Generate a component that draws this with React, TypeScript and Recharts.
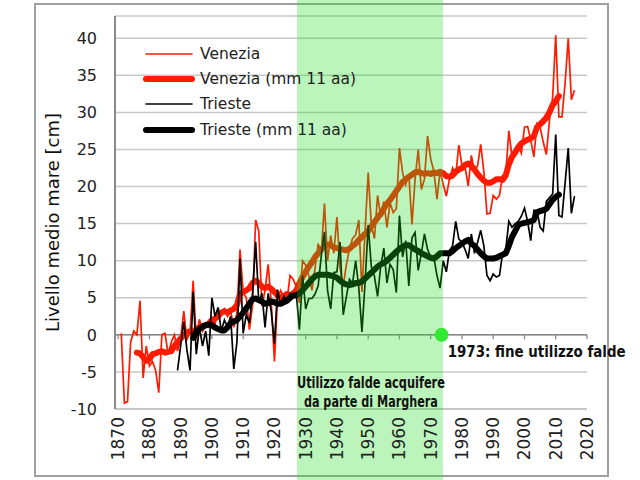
import React from 'react';
import {
  LineChart, Line, XAxis, YAxis, CartesianGrid, ReferenceArea, ReferenceLine,
  ReferenceDot, Legend,
} from 'recharts';

// ---- data (cm) ----
const veneziaStart = 1871;
const venezia = [
  0.2, -9.2, -9.0, -1.0, 0.5, 0.0, 4.6, -5.8, -1.5, -4.2,
  -3.6, -4.8, -7.8, 0.0, 0.2, -2.6, -1.0, 0.0, -2.2, -0.5,
  3.2, -0.6, 0.3, 7.3, -0.6, 2.1, 0.5, 1.2, 1.0, 2.0,
  1.5, 3.3, 2.8, 3.5, 2.5, 3.2, 1.0, 3.0, 11.5, 5.7,
  5.0, 0.7, 4.0, 15.5, 14.0, 3.9, 6.0, 9.5, 4.3, -3.6,
  5.0, 6.0, 5.0, 4.5, 8.0, 7.5, 6.5, 4.3, 10.0, 9.4,
  8.0, 6.0, 9.0, 12.3, 11.0, 17.7, 10.0, 13.4, 11.0, 15.9,
  9.0, 6.5, 9.4, 11.6, 13.0, 13.5, 15.5, 5.8, 14.0, 21.9,
  14.8, 13.0, 18.8, 16.0, 18.0, 14.5, 17.8, 16.5, 17.0, 25.2,
  21.9, 20.3, 21.7, 14.9, 21.0, 25.0, 19.6, 21.0, 26.8, 23.7,
  22.1, 18.3, 22.1, 20.3, 18.7, 21.0, 22.5, 21.5, 25.6, 22.8,
  22.6, 20.1, 24.2, 22.0, 22.8, 25.7, 22.0, 16.3, 16.4, 18.8,
  18.3, 18.8, 21.5, 21.6, 27.5, 24.0, 25.0, 25.5, 24.5, 28.0,
  28.1, 26.3, 24.0, 28.5, 28.0, 26.0, 24.3, 29.0, 32.0, 40.4,
  29.4, 29.4, 34.0, 40.0, 31.7, 33.0,
];

const veneziaMAStart = 1876;
const veneziaMA = [
  -2.4, -2.5, -3.0, -3.5, -3.3, -2.6, -2.5, -2.3, -2.2, -2.4,
  -2.3, -2.2, -1.5, -1.0, -0.5, 0.0, 0.3, 0.5, 0.3, 0.8,
  1.0, 1.2, 1.3, 1.5, 2.0, 2.2, 2.5, 3.0, 3.2, 3.0,
  3.3, 3.5, 4.0, 5.5, 5.8, 6.0, 6.3, 7.0, 7.3, 7.0,
  6.5, 6.3, 6.5, 6.2, 5.8, 5.3, 5.0, 5.2, 5.5, 5.3,
  5.6, 6.0, 7.0, 7.8, 8.5, 9.2, 9.8, 10.5, 11.0, 11.5,
  12.0, 12.2, 12.1, 11.8, 11.7, 11.6, 11.5, 11.4, 11.6, 12.0,
  12.3, 12.8, 13.2, 13.6, 14.0, 14.6, 15.2, 15.8, 16.3, 17.0,
  17.7, 18.2, 18.8, 19.4, 20.0, 20.6, 21.0, 21.3, 21.6, 21.9,
  22.0, 21.8, 21.7, 21.8, 21.7, 21.9, 21.8, 22.0, 21.8, 21.4,
  21.3, 21.5, 22.0, 22.3, 22.5, 22.9, 23.1, 22.8, 22.3, 21.7,
  21.2, 20.8, 20.5, 20.5, 20.7, 21.0, 21.0, 20.9, 21.5, 23.0,
  24.0, 24.6, 25.3, 25.8, 26.1, 26.3, 26.5, 26.8, 28.0, 28.4,
  28.8, 29.3, 30.0, 31.0, 31.5, 32.2,
];

const triesteStart = 1889;
const trieste = [
  -4.8, -1.5, 1.8, -2.0, -4.8, 5.8, -2.6, 1.0, -1.5, 0.5,
  -2.8, 5.0, 2.5, 3.7, 0.5, 2.0, 1.0, 2.5, -4.6, -1.0,
  10.3, 0.2, 2.7, 1.6, 5.6, 12.5, 4.3, 5.6, 1.0, 5.6,
  3.1, -1.2, 6.1, 3.9, 5.2, 4.5, 5.6, 5.4, 5.6, 0.7,
  8.0, 3.5, 4.9, 4.9, 5.5, 6.6, 10.7, 13.9, 6.0, 3.5,
  8.4, 8.5, 12.5, 2.7, 5.1, 7.5, 7.0, 10.0, 6.3, 0.4,
  7.0, 14.8, 9.2, 7.9, 5.2, 9.2, 11.7, 7.0, 9.5, 8.8,
  5.7, 16.1, 10.5, 12.7, 6.6, 13.1, 13.8, 8.7, 11.0, 13.6,
  11.5, 10.5, 10.5, 8.0, 6.3, 10.0, 8.5, 11.4, 12.0, 15.3,
  12.9, 12.5, 11.5, 10.3, 13.6, 11.0, 12.5, 14.1, 12.0, 8.0,
  7.3, 8.2, 7.8, 8.0, 11.0, 11.5, 15.3, 14.5, 15.0, 15.3,
  16.0, 17.1, 15.3, 12.7, 16.8, 16.8, 14.5, 14.0, 18.0, 18.5,
  19.0, 27.0, 16.1, 15.9, 20.5, 25.2, 16.4, 18.7,
];

const triesteMAStart = 1894;
const triesteMA = [
  -0.4, 0.4, 0.8, 1.1, 1.3, 1.4, 1.3, 1.0, 0.8, 0.6,
  0.6, 1.0, 1.6, 1.8, 2.0, 2.5, 3.0, 3.6, 4.2, 4.8,
  4.9, 4.7, 4.5, 4.2, 4.3, 4.5, 4.4, 4.2, 4.2, 4.4,
  4.6, 5.0, 5.3, 5.3, 5.6, 6.0, 6.5, 7.0, 7.5, 7.9,
  8.1, 8.1, 8.1, 8.1, 8.0, 7.9, 7.7, 7.3, 7.0, 6.8,
  6.7, 6.8, 7.0, 7.0, 7.2, 7.6, 8.0, 8.4, 8.8, 9.2,
  9.5, 9.7, 10.0, 10.4, 10.8, 11.2, 11.6, 11.9, 12.1, 12.1,
  11.8, 11.5, 11.3, 11.0, 10.8, 10.6, 10.4, 10.3, 10.6, 11.0,
  11.0, 11.0, 11.0, 11.3, 11.7, 12.0, 12.3, 12.6, 12.8, 12.3,
  12.0, 11.5, 11.0, 10.6, 10.3, 10.3, 10.3, 10.4, 10.6, 10.8,
  11.0, 12.0, 13.2, 14.0, 14.8, 15.0, 15.1, 15.2, 15.3, 15.5,
  16.5, 16.7, 16.8, 17.0, 17.6, 18.2, 18.6, 18.9,
];

const xTicks = [1870, 1880, 1890, 1900, 1910, 1920, 1930, 1940, 1950, 1960, 1970, 1980, 1990, 2000, 2010, 2020];
const yTicks = [-10, -5, 0, 5, 10, 15, 20, 25, 30, 35, 40];
const bandFrom = 1927.2;
const bandTo = 1973.9;
const endYear = 1973.5;

const legendItems = [
  { name: 'Venezia', color: '#ff1a00', width: 1.6 },
  { name: 'Venezia (mm 11 aa)', color: '#ff1a00', width: 6 },
  { name: 'Trieste', color: '#000000', width: 1.6 },
  { name: 'Trieste (mm 11 aa)', color: '#000000', width: 6 },
];

const pick = (arr: number[], start: number, y: number) => {
  const i = y - start;
  return i >= 0 && i < arr.length ? arr[i] : undefined;
};

const data: any[] = [];
for (let y = 1871; y <= 2016; y++) {
  data.push({
    year: y,
    ven: pick(venezia, veneziaStart, y),
    venMA: pick(veneziaMA, veneziaMAStart, y),
    tri: pick(trieste, triesteStart, y),
    triMA: pick(triesteMA, triesteMAStart, y),
  });
}

const FONT = "'DejaVu Sans', sans-serif";
const COND = "'DejaVu Sans Condensed', 'DejaVu Sans', sans-serif";

const XTick = (props: any) => {
  const { x, y, payload } = props;
  return (
    <text x={x} y={y} transform={`rotate(-90 ${x} ${y})`} textAnchor="end"
      dominantBaseline="central" fontSize={17} fill="#222" fontFamily={FONT}>
      {payload.value}
    </text>
  );
};

const LegendBox = () => (
  <div style={{ fontFamily: FONT, fontSize: 15.5, color: '#222' }}>
    {legendItems.map((it) => (
      <div key={it.name} style={{ display: 'flex', alignItems: 'center', height: 25.3 }}>
        <svg width={52} height={10} style={{ display: 'block' }}>
          <line x1={3} y1={5} x2={49} y2={5} stroke={it.color} strokeWidth={it.width} strokeLinecap="round" />
        </svg>
        <span style={{ marginLeft: 5, whiteSpace: 'nowrap' }}>{it.name}</span>
      </div>
    ))}
  </div>
);

export default function App() {
  return (
    <div style={{ position: 'absolute', left: 0, top: 0, width: 640, height: 480, background: '#fff' }}>
      <div style={{ position: 'absolute', left: 34, top: 3, width: 575, height: 474, border: '2px solid #a0a0a0', boxSizing: 'border-box' }} />
      <LineChart width={640} height={480} data={data}
        margin={{ top: 16, right: 53, left: 0, bottom: 0 }}>
        <CartesianGrid vertical={false} stroke="#c8c8c8" strokeWidth={1.5} />
        <XAxis dataKey="year" type="number" domain={[1869, 2020]} ticks={xTicks} interval={0}
          height={71} tickLine={false} axisLine={{ stroke: '#c0c0c0', strokeWidth: 1.5 }} tick={<XTick />} />
        <YAxis type="number" domain={[-10, 43]} ticks={yTicks} interval={0} width={115}
          tickLine={false} tickMargin={12}
          axisLine={{ stroke: '#8a8a8a', strokeWidth: 2 }}
          tick={{ fontSize: 16, fill: '#222', fontFamily: FONT }}
          label={{
            content: (p: any) => {
              const vb = p.viewBox;
              const cx = vb.x + 52;
              const cy = vb.y + vb.height / 2 + 10;
              return (
                <text x={cx} y={cy} transform={`rotate(-90 ${cx} ${cy})`} textAnchor="middle"
                  dominantBaseline="central" fontSize={18} fill="#111" fontFamily={FONT}>
                  Livello medio mare [cm]
                </text>
              );
            },
          }}
        />
        <ReferenceLine y={0} stroke="#858585" strokeWidth={1.5} />
        {xTicks.map((t) => (
          <ReferenceLine key={t} segment={[{ x: t, y: 0 }, { x: t, y: -0.6 }]} stroke="#858585" strokeWidth={1.2} />
        ))}
        <Line dataKey="ven" stroke="#ff1a00" strokeWidth={1.7} dot={false} isAnimationActive={false} />
        <Line dataKey="venMA" stroke="#ff1a00" strokeWidth={6} strokeLinecap="round" strokeLinejoin="round" dot={false} isAnimationActive={false} />
        <Line dataKey="tri" stroke="#000000" strokeWidth={1.7} dot={false} isAnimationActive={false} />
        <Line dataKey="triMA" stroke="#000000" strokeWidth={6} strokeLinecap="round" strokeLinejoin="round" dot={false} isAnimationActive={false} />
        <ReferenceArea x1={bandFrom} x2={bandTo} y1={-19.6} y2={45.2} ifOverflow="visible"
          fill="#22dd22" fillOpacity={0.3} stroke="none" zIndex={1500}
          label={{
            content: (p: any) => {
              const vb = p.viewBox;
              const cx = vb.x + vb.width / 2;
              const bottom = vb.y + vb.height;
              return (
                <g fontFamily={COND} fontWeight="bold" fontSize={16} fill="#111" textAnchor="middle">
                  <text x={cx + 1} y={bottom - 92} textLength={148} lengthAdjust="spacingAndGlyphs">Utilizzo falde acquifere</text>
                  <text x={cx + 1} y={bottom - 73} textLength={134} lengthAdjust="spacingAndGlyphs">da parte di Marghera</text>
                </g>
              );
            },
          }}
        />
        <ReferenceDot x={endYear} y={0} r={7} fill="#33ea33" stroke="none" zIndex={1600}
          label={{
            content: (p: any) => {
              const vb = p.viewBox;
              const cx = vb.x + vb.width / 2;
              const cy = vb.y + vb.height / 2;
              return (
                <text x={cx + 6} y={cy + 22} fontFamily={COND} fontWeight="bold" fontSize={15} fill="#111"
                  textLength={178} lengthAdjust="spacingAndGlyphs">
                  1973: fine utilizzo falde
                </text>
              );
            },
          }}
        />
        <Legend layout="vertical" align="center" verticalAlign="middle"
          wrapperStyle={{ position: 'absolute', left: 143, top: 41, width: 240, height: 104 }}
          content={() => <LegendBox />} />
      </LineChart>
    </div>
  );
}
